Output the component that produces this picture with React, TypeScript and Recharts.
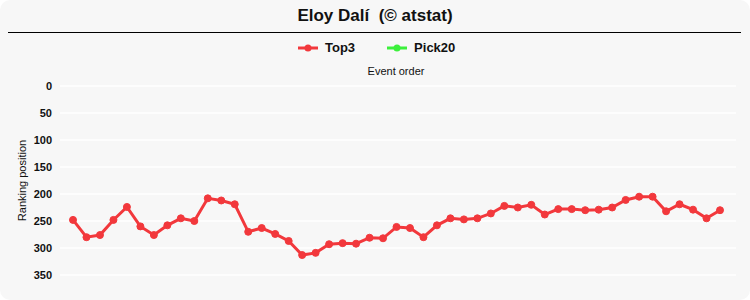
import { LineChart, Line, XAxis, YAxis, CartesianGrid } from "recharts";

const events: number[] = Array.from({ length: 49 }, (_, i) => i + 1);

const top3: number[] = [
  248, 280, 276, 248, 224, 260, 276, 258, 245, 250,
  208, 212, 219, 270, 263, 274, 287, 313, 309, 293,
  291, 292, 281, 282, 261, 263, 280, 258, 245, 247,
  245, 236, 222, 225, 220, 238, 228, 228, 230, 229,
  225, 211, 205, 205, 232, 219, 229, 245, 230,
];

const pick20: (number | null)[] = events.map(() => null);

const yTicks: number[] = [0, 50, 100, 150, 200, 250, 300, 350];

const data = events.map((e, i) => ({ event: e, top3: top3[i], pick20: pick20[i] }));

const RED = "#f2383c";
const GREEN = "#3cf03c";
const FONT = "'Liberation Sans', Arial, sans-serif";

function LegendItem({ color, label }: { color: string; label: string }) {
  return (
    <div style={{ display: "flex", alignItems: "center", gap: 7 }}>
      <svg width={20} height={10}>
        <line x1={0} y1={5} x2={20} y2={5} stroke={color} strokeWidth={3} />
        <circle cx={10} cy={5} r={3.5} fill={color} />
      </svg>
      <span style={{ fontWeight: "bold", fontSize: 13, color: "#111" }}>{label}</span>
    </div>
  );
}

export default function App() {
  return (
    <div
      style={{
        position: "absolute",
        left: 0,
        top: 0,
        width: 750,
        height: 300,
        background: "#f7f7f7",
        borderRadius: 10,
        fontFamily: FONT,
        overflow: "hidden",
      }}
    >
      <div
        style={{
          position: "absolute",
          top: 6,
          width: 750,
          textAlign: "center",
          fontWeight: "bold",
          fontSize: 17,
          whiteSpace: "pre",
          color: "#111",
        }}
      >
        {"Eloy Dalí  (© atstat)"}
      </div>
      <div style={{ position: "absolute", top: 32, left: 8, width: 733, height: 1, background: "#000" }} />
      <div
        style={{
          position: "absolute",
          top: 40,
          left: 298,
          display: "flex",
          gap: 32,
        }}
      >
        <LegendItem color={RED} label="Top3" />
        <LegendItem color={GREEN} label="Pick20" />
      </div>
      <div
        style={{
          position: "absolute",
          top: 65,
          left: 296,
          width: 200,
          textAlign: "center",
          fontSize: 11,
          color: "#111",
        }}
      >
        Event order
      </div>
      <LineChart
        width={750}
        height={300}
        data={data}
        margin={{ top: 86, right: 14, bottom: 25, left: 0 }}
        style={{ position: "absolute", left: 0, top: 0 }}
      >
        <CartesianGrid vertical={false} stroke="#ffffff" strokeWidth={1.5} />
        <XAxis
          dataKey="event"
          hide
          padding={{ left: 13, right: 16 }}
        />
        <YAxis
          reversed
          domain={[0, 350]}
          ticks={yTicks}
          width={60}
          tickSize={0}
          tickMargin={8}
          axisLine={false}
          tickLine={false}
          tick={{ fontSize: 11, fontWeight: "bold", fill: "#111", fontFamily: FONT }}
          label={{
            value: "Ranking position",
            angle: -90,
            position: "insideLeft",
            offset: 22,
            style: { textAnchor: "middle", fontSize: 11, fill: "#111", fontFamily: FONT },
          }}
        />
        <Line
          dataKey="top3"
          stroke={RED}
          strokeWidth={3}
          dot={{ r: 3.5, fill: RED, stroke: RED, strokeWidth: 1 }}
          isAnimationActive={false}
        />
        <Line
          dataKey="pick20"
          stroke={GREEN}
          strokeWidth={3}
          dot={{ r: 3.5, fill: GREEN, stroke: GREEN }}
          isAnimationActive={false}
        />
      </LineChart>
    </div>
  );
}
